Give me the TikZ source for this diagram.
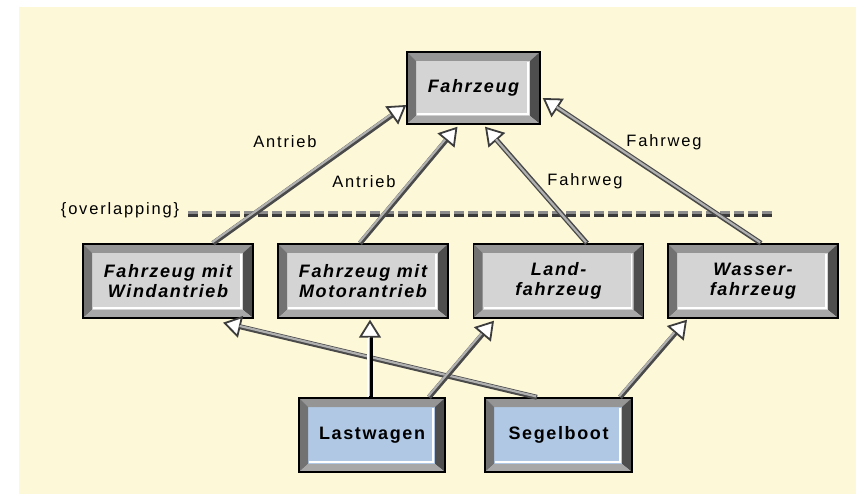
\documentclass[tikz,border=0pt]{standalone}
\usepackage{fontspec}
\usetikzlibrary{arrows.meta}
\newfontfamily\lblfont[LetterSpace=11]{Liberation Sans}
\newfontfamily\boxfont[LetterSpace=9]{Liberation Sans}
\definecolor{canvasbg}{HTML}{FDF8D8}
\definecolor{panelgray}{HTML}{D4D4D4}
\definecolor{panelblue}{HTML}{B0C8E4}
\definecolor{bvtop}{HTML}{959595}
\definecolor{bvleft}{HTML}{727272}
\definecolor{bvright}{HTML}{4E4E4E}
\definecolor{bvbottom}{HTML}{A8A8A8}
\definecolor{linkdark}{HTML}{4A4A4A}
\definecolor{linklight}{HTML}{B0B0B0}
\definecolor{tipdark}{HTML}{3C3C3C}
\definecolor{dashtop}{HTML}{8C8C8C}
\definecolor{dashbot}{HTML}{3A3A3A}

\tikzset{
  bevel/.style={rectangle, draw=black, line width=1.4pt, fill=#1, inner sep=0pt,
    align=center, text=black,
    font=\boxfont\bfseries\itshape\fontsize{18}{20}\selectfont,
    path picture={
      \path (path picture bounding box.north west) coordinate (oNW)
            (path picture bounding box.north east) coordinate (oNE)
            (path picture bounding box.south east) coordinate (oSE)
            (path picture bounding box.south west) coordinate (oSW);
      \path ([shift={(9pt,-9pt)}]oNW) coordinate (iNW)
            ([shift={(-10pt,-9pt)}]oNE) coordinate (iNE)
            ([shift={(-10pt,8pt)}]oSE) coordinate (iSE)
            ([shift={(9pt,8pt)}]oSW) coordinate (iSW);
      \fill[bvtop] (oNW) -- (oNE) -- (iNE) -- (iNW) -- cycle;
      \fill[bvleft] (oNW) -- (iNW) -- (iSW) -- (oSW) -- cycle;
      \fill[bvright] (oNE) -- (oSE) -- (iSE) -- (iNE) -- cycle;
      \fill[bvbottom] (oSW) -- (iSW) -- (iSE) -- (oSE) -- cycle;
      \draw[white, line width=1.5pt] ([shift={(1pt,2pt)}]iSW) -- ([shift={(-2pt,2pt)}]iSE)
            -- ([shift={(-2pt,-1pt)}]iNE);
    }},
  classbox/.style={bevel=panelgray, minimum width=170pt, minimum height=74pt},
  leafbox/.style={bevel=panelblue, minimum width=146pt, minimum height=74pt,
    font=\boxfont\bfseries\upshape\fontsize{18}{20}\selectfont},
  linklabel/.style={inner sep=0pt, text=black, font=\lblfont\fontsize{16.5}{18}\selectfont},
  link/.style={draw=linkdark, line width=5pt,
    -{Triangle[length=18pt, width=22pt, line width=1.8pt, fill=white, color=tipdark]},
    postaction={draw=linklight, line width=2.2pt, arrows=-, shorten >=18pt,
      transform canvas={shift={(-0.9pt,0.9pt)}}}},
  linkbw/.style={link, draw=black, postaction={draw=white, line width=2pt, arrows=-,
      shorten >=18pt, transform canvas={shift={(-1.8pt,0pt)}}}},
  dashrule/.style={line width=2.8pt, dash pattern=on 10pt off 4pt},
}

\begin{document}
\begin{tikzpicture}[x=1pt, y=-1pt]
  \useasboundingbox (0,0) rectangle (856,494);
  \fill[white] (0,0) rectangle (856,494);
  \fill[canvasbg] (19,7) rectangle (856,494);

  % overlapping constraint rule
  \node[linklabel] (ovl) at (120,210) {\{overlapping\}};
  \coordinate (dl) at (188,214);
  \coordinate (dr) at (773,214);
  \draw[dashrule, dashtop] ([yshift=1.4pt]dl) -- ([yshift=1.4pt]dr);
  \draw[dashrule, dashbot] ([yshift=-1.4pt]dl) -- ([yshift=-1.4pt]dr);

  % classes
  \node[bevel=panelgray, minimum width=133pt, minimum height=72pt] (fz) at (473.5,88) {Fahrzeug};
  \node[classbox] (wind) at (168,281) {Fahrzeug mit\\Windantrieb};
  \node[classbox] (motor) at (363,281) {Fahrzeug mit\\Motorantrieb};
  \node[classbox] (land) at (558.5,281) {Land-\\fahrzeug};
  \node[classbox] (wasser) at (753,281) {Wasser-\\fahrzeug};
  \node[leafbox] (last) at (372,435) {Lastwagen};
  \node[leafbox, minimum width=147pt] (segel) at (558.5,435) {Segelboot};

  % generalizations
  \draw[link] ([xshift=45pt]wind.north) -- ([yshift=-17pt]fz.west);
  \draw[link] ([xshift=-3pt]motor.north) -- ([xshift=-16pt,yshift=-2pt]fz.south);
  \draw[link] ([xshift=28.5pt]land.north) -- ([xshift=11.5pt,yshift=-2pt]fz.south);
  \draw[link] ([xshift=8pt]wasser.north) -- ([xshift=2pt,yshift=-10pt]fz.east);
  \draw[link] ([xshift=-21.5pt]segel.north) -- ([xshift=55pt,yshift=-4pt]wind.south);
  \draw[linkbw] ([xshift=-2pt]last.north) -- ([xshift=7pt,yshift=-1pt]motor.south);
  \draw[link] ([xshift=57pt]last.north) -- ([xshift=-64.5pt,yshift=-2pt]land.south);
  \draw[link] ([xshift=61.5pt]segel.north) -- ([xshift=-66pt,yshift=-1pt]wasser.south);

  % discriminators
  \node[linklabel] (la1) at (285,142) {Antrieb};
  \node[linklabel] (la2) at (364,182) {Antrieb};
  \node[linklabel] (lf1) at (585,181) {Fahrweg};
  \node[linklabel] (lf2) at (664,142) {Fahrweg};
\end{tikzpicture}
\end{document}
